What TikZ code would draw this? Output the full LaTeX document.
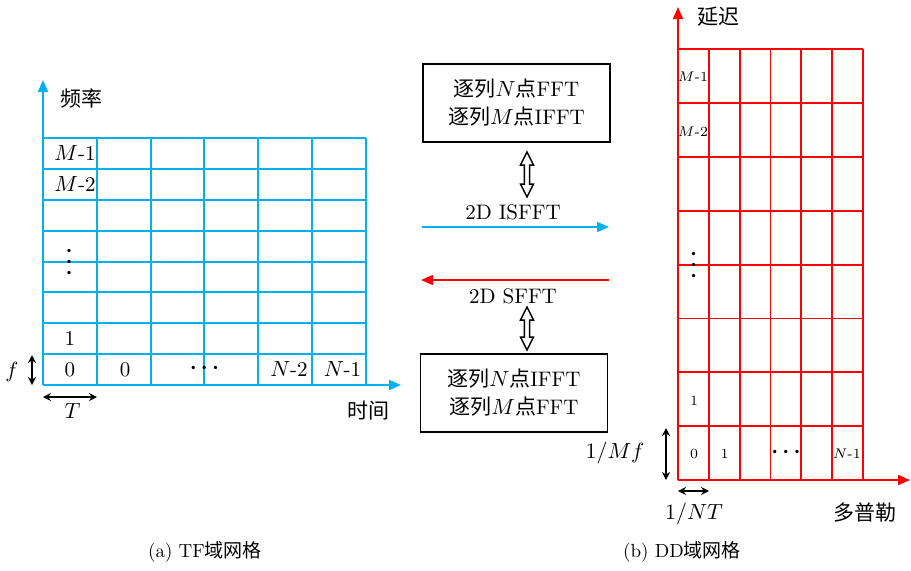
\documentclass[tikz,border=0pt]{standalone}
\usepackage{fontspec}
\newfontfamily\cjk{Noto Sans CJK SC}
\usetikzlibrary{arrows.meta,calc}
\definecolor{tfblue}{RGB}{0,176,240}
\definecolor{ddred}{RGB}{255,0,0}
\newcommand\hollowdarrow[3]{%
  \draw[line width=0.75pt,line join=miter]
    (#1,#2) -- ({#1+6.5},{#2+13}) -- ({#1+2.6},{#2+13}) -- ({#1+2.6},{#3-13})
    -- ({#1+6.5},{#3-13}) -- (#1,#3) -- ({#1-6.5},{#3-13}) -- ({#1-2.6},{#3-13})
    -- ({#1-2.6},{#2+13}) -- ({#1-6.5},{#2+13}) -- cycle;}
\begin{document}
\begin{tikzpicture}[x=0.5pt,y=-0.5pt,
  font=\fontsize{10.5}{12.6}\selectfont,
  tfgrid/.style={tfblue,line width=1pt},
  ddgrid/.style={ddred,line width=0.9pt},
  axtip/.style={-{Triangle[length=6pt,width=5pt]}},
  dimarrow/.style={{Stealth[length=4pt,width=4pt]}-{Stealth[length=4pt,width=4pt]},line width=0.9pt},
  opbox/.style={draw,line width=0.8pt,minimum width=93.5pt,minimum height=38.9pt,align=center,inner sep=0pt,font=\fontsize{10.5}{14}\selectfont},
  small/.style={font=\fontsize{7}{8}\selectfont},
  lbl/.style={inner sep=0pt},
  dots/.style={inner sep=0pt,font=\fontsize{11}{13}\selectfont\boldmath}
]
\useasboundingbox (0,0) rectangle (911,570);

% ---------------- left TF grid ----------------
\foreach \i in {0,...,6} \draw[tfgrid] ({43+\i*53.83},138) -- ({43+\i*53.83},385);
\foreach \j in {0,...,8} \draw[tfgrid] (43,{138+\j*30.875}) -- (366,{138+\j*30.875});
\coordinate (o1) at (43,385);
\coordinate (y1) at (43,80);
\coordinate (x1) at (401,385);
\draw[tfgrid,axtip] (o1) -- (y1);
\draw[tfgrid,axtip] (o1) -- (x1);
\node[lbl] (freq) at (82,98) {\cjk 频率};
\node[lbl] (time) at (368,411) {\cjk 时间};
\node[lbl] (lm1) at (75,153) {$M$-1};
\node[lbl] (lm2) at (75,184) {$M$-2};
\node[dots,rotate=90] (lvd) at (69.5,262) {$\cdots$};
\node[lbl] (l1) at (70,338) {1};
\node[lbl] (l00) at (70,369.5) {0};
\node[lbl] (l01) at (125,369.5) {0};
\node[dots] (lcd) at (204.5,368) {$\cdots$};
\node[lbl] (ln2) at (289,369.5) {$N$-2};
\node[lbl] (ln1) at (342.5,369.5) {$N$-1};
\coordinate (fa) at (32,355);
\coordinate (fb) at (32,385);
\draw[dimarrow] (fa) -- (fb);
\node[lbl] (fl) at (12,372) {$f$};
\coordinate (ta) at (43,397);
\coordinate (tb) at (97,397);
\draw[dimarrow] (ta) -- (tb);
\node[lbl] (tlab) at (72.5,411) {$T$};

% ---------------- middle ----------------
\node[opbox] (box1) at (516.5,102.8) {{\cjk 逐列}$N${\cjk 点}FFT\\{\cjk 逐列}$M${\cjk 点}IFFT};
\node[opbox] (box2) at (514,392.8) {{\cjk 逐列}$N${\cjk 点}IFFT\\{\cjk 逐列}$M${\cjk 点}FFT};
\hollowdarrow{527}{152}{197}
\hollowdarrow{527}{307}{350}
\node[lbl] (isfft) at (513,212) {2D ISFFT};
\node[lbl] (sfft) at (513,296) {2D SFFT};
\coordinate (ba) at (422,227);
\coordinate (bb) at (609,227);
\draw[tfblue,line width=0.8pt,axtip] (ba) -- (bb);
\coordinate (ra) at (609,280);
\coordinate (rb) at (421,280);
\draw[ddred,line width=0.8pt,axtip] (ra) -- (rb);

% ---------------- right DD grid ----------------
\foreach \i in {0,...,6} \draw[ddgrid] ({678+\i*30.8},49.3) -- ({678+\i*30.8},480);
\foreach \j in {0,...,8} \draw[ddgrid] (678,{49.3+\j*53.84}) -- (862.8,{49.3+\j*53.84});
\coordinate (o2) at (678,480);
\coordinate (y2) at (678,7);
\coordinate (x2) at (910,480);
\draw[ddgrid,axtip] (o2) -- (y2);
\draw[ddgrid,axtip] (o2) -- (x2);
\node[lbl] (delay) at (718,17) {\cjk 延迟};
\node[lbl] (doppler) at (865,513) {\cjk 多普勒};
\node[lbl,small] (rm1) at (693,77) {$M$-1};
\node[lbl,small] (rm2) at (693,131.5) {$M$-2};
\node[dots,rotate=90] (rvd) at (694,265) {$\cdots$};
\node[lbl,small] (r1) at (694,401) {1};
\node[lbl,small] (r00) at (694,454) {0};
\node[lbl,small] (r01) at (724.5,454) {1};
\node[dots] (rcd) at (786,452.5) {$\cdots$};
\node[lbl,small] (rn1) at (847,454) {$N$-1};
\coordinate (mfa) at (666,428);
\coordinate (mfb) at (666,480);
\draw[dimarrow] (mfa) -- (mfb);
\node[lbl] (mfl) at (615,453) {$1/Mf$};
\coordinate (nta) at (678,491);
\coordinate (ntb) at (709,491);
\draw[dimarrow] (nta) -- (ntb);
\node[lbl] (ntl) at (694,514) {$1/NT$};

% ---------------- captions ----------------
\node[lbl,font=\fontsize{9.5}{11}\selectfont] (capa) at (205,552) {(a) TF{\cjk 域网格}};
\node[lbl,font=\fontsize{9.5}{11}\selectfont] (capb) at (682,552) {(b) DD{\cjk 域网格}};
\end{tikzpicture}
\end{document}
